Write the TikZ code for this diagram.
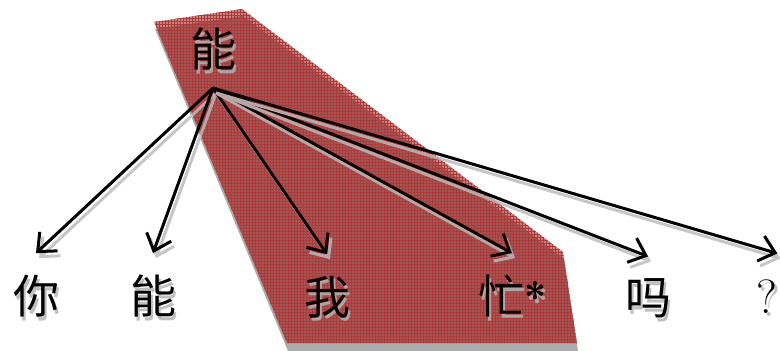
\documentclass[tikz,border=0pt]{standalone}
\usepackage{fontspec}
\usepackage{xcolor}
\newfontfamily\cjk{Noto Sans CJK SC}
\usetikzlibrary{arrows.meta,patterns}
\newcommand{\shadowtext}[1]{\rlap{\kern2.5pt\raisebox{-3.5pt}{\textcolor{gray!50}{#1}}}#1}

\begin{document}
\begin{tikzpicture}[x=1pt,y=-1pt,
    word/.style={inner sep=0pt,outer xsep=0pt,outer ysep=22pt,
                 font=\cjk\fontsize{46}{50}\selectfont},
    qmark/.style={inner sep=0pt,outer xsep=0pt,outer ysep=26pt,
                  font=\fontsize{48}{50}\selectfont},
    deparrow/.style={-{Straight Barb[length=15pt,width=26pt]},line width=3pt},
    arrowshadow/.style={deparrow,draw=gray!45,
                        transform canvas={xshift=3pt,yshift=-5pt}},
    shadelayer/.style={fill=black!55,fill opacity=.6},
    redlayer/.style={fill=red!70!black,fill opacity=.4},
    gridlayer/.style={pattern=grid,pattern color=red!45!gray,fill opacity=.5},
    tintlayer/.style={fill=red!40!black,fill opacity=.15}
  ]
  \useasboundingbox (0,0) rectangle (780,351);
  % Highlighted region
  \fill[shadelayer] (155,29) -- (243,16) -- (564,259) -- (578,351) -- (288,351) -- cycle;
  \fill[redlayer]   (154,22) -- (242,9) -- (563,252) -- (577,343) -- (287,343) -- cycle;
  \fill[gridlayer]  (154,22) -- (242,9) -- (563,252) -- (577,343) -- (287,343) -- cycle;
  % Head
  \node[word]  (head) at (213, 51) {\shadowtext{能}};
  \coordinate  (root) at (213, 88);
  % Sentence
  \node[word]  (ni)   at ( 36,298) {\shadowtext{你}};
  \node[word]  (neng) at (153,298) {\shadowtext{能}};
  \node[word]  (wo)   at (327,299) {\shadowtext{我}};
  \node[word]  (mang) at (512,298) {\shadowtext{忙}\raisebox{2pt}{\shadowtext{\sffamily\bfseries\fontsize{40}{40}\selectfont *}}};
  \node[word]  (ma)   at (648,300) {\shadowtext{吗}};
  \node[qmark] (q)    at (767,298) {\shadowtext{?}};
  % Dependencies
  \foreach \dep in {ni,neng,wo,mang,ma} {
    \draw[arrowshadow] (root) -- (\dep.north);
    \draw[deparrow]    (root) -- (\dep.north);
  }
  \draw[arrowshadow] (root) -- (q.north east);
  \draw[deparrow]    (root) -- (q.north east);
  % Tint over the region
  \fill[tintlayer]  (154,22) -- (242,9) -- (563,252) -- (577,343) -- (287,343) -- cycle;
\end{tikzpicture}
\end{document}
